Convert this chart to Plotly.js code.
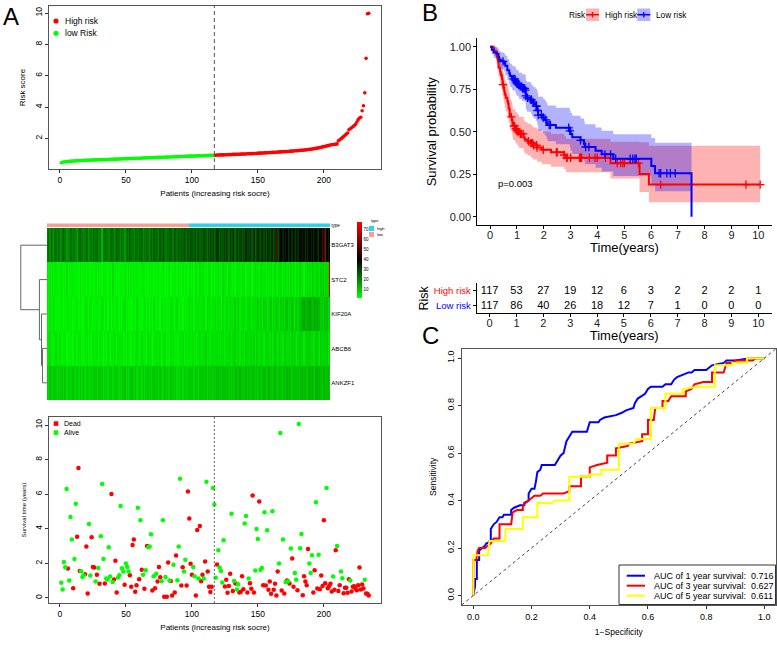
<!DOCTYPE html>
<html>
<head>
<meta charset="utf-8">
<script src="https://cdn.plot.ly/plotly-3.0.1.min.js"></script>
<style>
html, body { margin: 0; padding: 0; background: #fff; }
#chart { width: 777px; height: 646px; }
</style>
</head>
<body>
<div id="chart"></div>
<script>
// ---------- Panel A, top: risk score of each patient (sorted) ----------
var riskScore = [
  0.45,0.48,0.50,0.51,0.52,0.53,0.54,0.54,0.55,0.56,
  0.56,0.57,0.57,0.58,0.58,0.59,0.59,0.60,0.60,0.61,
  0.61,0.61,0.62,0.62,0.62,0.63,0.63,0.63,0.64,0.64,
  0.64,0.65,0.65,0.65,0.66,0.66,0.66,0.67,0.67,0.67,
  0.68,0.68,0.68,0.69,0.69,0.69,0.70,0.70,0.70,0.71,
  0.71,0.71,0.72,0.72,0.72,0.73,0.73,0.73,0.74,0.74,
  0.74,0.75,0.75,0.75,0.76,0.76,0.76,0.77,0.77,0.77,
  0.78,0.78,0.78,0.79,0.79,0.79,0.80,0.80,0.80,0.81,
  0.81,0.81,0.82,0.82,0.82,0.83,0.83,0.83,0.84,0.84,
  0.84,0.85,0.85,0.85,0.86,0.86,0.86,0.87,0.87,0.87,
  0.88,0.88,0.88,0.89,0.89,0.89,0.90,0.90,0.90,0.91,
  0.91,0.91,0.92,0.92,0.92,0.93,0.93,
  0.93,0.94,0.94,0.94,0.95,0.95,0.95,0.96,0.96,0.96,
  0.97,0.97,0.97,0.98,0.98,0.98,0.99,0.99,0.99,1.00,
  1.00,1.01,1.01,1.01,1.02,1.02,1.03,1.03,1.03,1.04,
  1.04,1.05,1.05,1.06,1.06,1.07,1.07,1.08,1.08,1.09,
  1.09,1.10,1.10,1.11,1.11,1.12,1.12,1.13,1.13,1.14,
  1.14,1.15,1.16,1.16,1.17,1.17,1.18,1.19,1.19,1.20,
  1.21,1.21,1.22,1.23,1.24,1.24,1.25,1.26,1.27,1.28,
  1.29,1.30,1.31,1.32,1.34,1.35,1.37,1.38,1.40,1.42,
  1.44,1.46,1.48,1.50,1.52,1.54,1.56,1.58,1.60,1.61,
  1.62,1.63,1.65,1.85,1.92,1.98,2.05,2.12,2.20,2.28,
  2.35,2.55,2.62,2.68,2.75,2.82,2.90,3.05,3.20,3.30,
  3.35,3.77,4.09,4.91,7.11,9.96,9.98
];
var lowCount = 117;   // patients below the cut-off (low risk)

// ---------- Panel A, middle: heatmap of the five genes ----------
var genes = ['B3GAT3', 'STC2', 'KIF20A', 'ABCB6', 'ANKZF1'];
// one character per patient (same order as riskScore): base-36 digit x 2 = expression
var exprB3GAT3 = 'ab9ca8bb9c a9bdab8a9c bab9a7bcab 9acb8ab9da bc9ab6abca a9bcb9adbb 9cab8bcaeb ab9cbadbc9 bacb9bcadb cbadbcebac bdcbaecbdc bdcecbd' +
  'ceddcfbdec dcfedbecfd ecdgfceddf dfecgdehce fdegcfdhef egdfhcegfd fhegdifegh dfgtehjigk hjfikgjhfi gkijhlfjgi jhkgijhfkj rigwjhk';
var exprSTC2 = '2121312212 1221213121 2212121312 1212212121 2131212212 1221312121 2121221312 1312212122 2121312212 1221213121 2312122131 2121221' +
  '2312132213 2231213221 3122312132 2213221312 3221323122 2312232213 3223132231 2321323132 3231423213 2342313242 3243234324 352434z';
var exprKIF20A = '2122132121 1221212312 2121321221 1232122121 2212132122 1321212231 2122312121 1221321212 2312122132 1221231212 2132212321 2213122' +
  '3223132232 2323142322 3242323132 2332423242 3423243233 4324233424 3243423542 4353424353 4534354245 3546676576 7656767564 5364534';
var exprABCB6 = '2231212321 3212231212 2132122312 1223121232 2312321221 3212232132 2231213221 3122321232 2213232122 3223122312 2132322213 2231322' +
  '3223231323 2332423223 3233242332 2423323342 3324232433 2433424323 4323433242 3442343324 4334243432 3443423443 4342344324 3443423';
var exprANKZF1 = '4354345435 3453543453 4543453534 5345435345 4354543435 3545345453 4354534345 5435345435 3454353454 4535434535 3454535343 4535434' +
  '4545354535 5454535454 4545645455 5464545456 4565454645 5456545465 4565456454 5645465456 4656546565 5465656546 6565467565 4765564';
// hclust-style merges of the gene rows (negative = leaf), and their heights
var dendroMerge = [[-4, -5], [-3, 1], [-2, 2], [-1, 3]];
var dendroHeight = [0.17, 0.21, 0.29, 1.0];

// ---------- Panel A, bottom: follow-up time and status ----------
var survTime = [
  0.87,0.48,2.08,1.77,6.30,1.70,1.00,4.68,3.37,0.56,
  2.25,5.45,3.53,7.51,1.56,1.54,1.21,1.31,1.37,2.97,
  0.25,4.28,1.29,3.50,1.79,1.75,0.94,1.33,1.73,0.81,
  3.56,6.59,2.25,0.83,1.12,1.06,2.93,1.23,6.01,0.92,
  1.06,2.14,0.31,1.18,1.31,5.32,1.71,1.52,0.75,1.98,
  1.79,1.52,1.31,0.64,3.06,3.37,0.35,0.73,5.22,1.08,
  4.49,1.62,1.33,0.52,1.60,3.00,2.93,2.97,3.68,0.42,
  1.25,0.56,1.39,0.94,1.79,1.19,0.96,4.49,0.06,1.21,
  0.06,2.04,1.00,0.98,0.13,1.91,0.31,2.45,1.02,2.97,
  6.90,0.71,1.77,1.52,2.20,0.71,6.15,4.59,1.97,1.33,
  1.79,1.25,0.13,3.93,1.12,4.16,0.96,1.33,1.12,2.10,
  6.72,1.52,0.64,0.33,0.64,6.36,5.40,
  1.16,1.93,2.76,1.75,1.56,0.89,3.33,0.66,1.04,0.29,
  0.69,1.39,4.87,0.39,0.98,0.83,0.48,0.79,0.31,0.35,
  1.25,0.50,4.30,4.74,0.31,1.12,0.85,0.52,5.92,0.31,
  1.58,3.99,3.41,5.57,1.62,1.73,0.73,4.95,0.71,3.91,
  0.46,0.94,0.23,5.01,0.46,0.81,0.13,1.52,1.98,9.54,
  0.42,3.37,0.25,0.91,1.00,0.96,0.83,2.85,2.27,0.64,
  1.43,1.04,0.44,10.07,2.87,3.70,0.15,1.25,0.94,0.73,
  2.83,1.98,1.43,2.47,0.31,1.60,5.53,0.54,2.50,0.50,
  1.29,0.69,4.49,0.85,6.36,0.56,0.69,0.81,0.37,1.23,
  0.46,2.76,3.00,0.40,0.73,1.52,1.14,0.27,0.58,0.58,
  0.29,1.08,1.00,0.37,0.64,0.67,0.52,0.44,0.73,1.75,
  0.48,0.77,0.54,1.04,0.25,0.23,0.13
];
var survDead = [
  0,0,0,0,0,1,0,0,0,1, 0,0,1,1,1,0,0,0,1,1, 1,0,0,1,1,1,0,1,0,1,
  0,0,0,1,0,0,0,0,1,0, 1,1,1,0,0,0,0,0,1,0, 0,0,1,1,1,1,1,1,0,1,
  0,1,0,1,0,1,0,0,0,1, 0,1,0,1,1,1,0,0,1,0, 1,1,0,1,1,0,1,1,0,0,
  0,1,1,0,0,1,1,1,1,1, 0,0,1,1,0,1,1,1,0,1, 0,1,1,1,1,0,0,
  0,1,0,0,0,0,0,1,1,1, 1,1,0,1,0,1,0,0,1,1, 1,1,0,0,1,0,1,1,1,1,
  0,0,0,1,0,0,1,0,1,0, 1,1,1,0,1,1,1,1,0,0, 1,0,1,0,1,0,1,0,1,1,
  0,0,1,0,0,0,1,1,1,1, 1,0,0,0,1,1,0,1,0,1, 1,1,1,1,0,1,1,1,1,0,
  1,1,0,1,1,0,0,1,1,1, 1,1,0,1,1,1,1,1,1,1, 1,1,1,0,1,1,1
];

// ---------- Panel B: Kaplan-Meier by risk group + numbers at risk ----------
var kmGroups = ['High risk', 'Low risk'];
var riskTimes = [0, 1, 2, 3, 4, 5, 6, 7, 8, 9, 10];
var atRiskHigh = [117, 53, 27, 19, 12, 6, 3, 2, 2, 2, 1];
var atRiskLow = [117, 86, 40, 26, 18, 12, 7, 1, 0, 0, 0];
var pValueText = 'p=0.003';

// ---------- Panel C: time-dependent ROC ----------
var roc1Fpr = [0,0.006,0.006,0.012,0.012,0.02,0.02,0.03,0.04,0.045,0.05,0.055,0.06,0.06,0.07,0.08,0.085,0.09,0.10,0.105,0.13,0.13,0.14,0.16,0.175,0.175,0.19,0.19,0.20,0.21,0.215,0.22,0.23,0.235,0.28,0.29,0.30,0.31,0.315,0.32,0.33,0.34,0.39,0.40,0.43,0.435,0.45,0.49,0.51,0.525,0.55,0.555,0.565,0.58,0.59,0.60,0.61,0.65,0.66,0.68,0.69,0.70,0.72,0.74,0.75,0.76,0.80,0.81,0.82,0.86,0.87,0.90,0.95,1.0];
var roc1Tpr = [0,0.04,0.07,0.07,0.15,0.15,0.19,0.20,0.21,0.22,0.22,0.23,0.23,0.28,0.30,0.31,0.32,0.33,0.33,0.34,0.34,0.36,0.37,0.38,0.38,0.39,0.40,0.43,0.45,0.45,0.48,0.52,0.53,0.55,0.55,0.57,0.59,0.60,0.62,0.65,0.67,0.69,0.69,0.73,0.73,0.74,0.75,0.76,0.77,0.78,0.79,0.81,0.83,0.84,0.85,0.87,0.88,0.88,0.89,0.89,0.91,0.92,0.93,0.94,0.94,0.95,0.95,0.96,0.97,0.98,0.99,0.99,1.0,1.0];
var roc3Fpr = [0,0,0.01,0.015,0.02,0.04,0.05,0.06,0.07,0.09,0.09,0.13,0.135,0.15,0.17,0.17,0.19,0.20,0.21,0.23,0.24,0.31,0.33,0.33,0.37,0.37,0.40,0.40,0.425,0.46,0.46,0.49,0.49,0.53,0.535,0.58,0.58,0.60,0.60,0.62,0.625,0.65,0.65,0.67,0.68,0.73,0.73,0.75,0.76,0.79,0.82,0.82,0.86,0.87,0.89,0.90,0.96,0.97,1.0];
var roc3Tpr = [0,0.15,0.15,0.19,0.20,0.20,0.21,0.22,0.24,0.24,0.30,0.30,0.35,0.36,0.36,0.38,0.40,0.41,0.42,0.42,0.43,0.43,0.44,0.46,0.46,0.50,0.50,0.54,0.55,0.56,0.59,0.59,0.62,0.63,0.64,0.65,0.68,0.68,0.74,0.74,0.79,0.79,0.82,0.82,0.84,0.84,0.86,0.87,0.89,0.90,0.90,0.94,0.94,0.98,0.98,0.99,0.99,1.0,1.0];
var roc5Fpr = [0,0,0.05,0.055,0.11,0.11,0.17,0.17,0.22,0.22,0.27,0.28,0.33,0.33,0.40,0.40,0.44,0.44,0.50,0.50,0.55,0.56,0.61,0.61,0.66,0.66,0.72,0.72,0.77,0.83,0.83,0.89,0.89,0.94,0.94,1.0];
var roc5Tpr = [0,0.17,0.17,0.23,0.23,0.28,0.28,0.33,0.33,0.39,0.39,0.40,0.40,0.50,0.50,0.51,0.51,0.53,0.53,0.64,0.64,0.66,0.66,0.79,0.79,0.85,0.85,0.87,0.88,0.88,0.97,0.97,0.98,0.98,1.0,1.0];
var aucLabels = ['AUC of 1 year survival:', 'AUC of 3 year survival:', 'AUC of 5 year survival:'];
var aucValues = [0.716, 0.627, 0.611];

// ---------------------------------------------------------------------
var W = 777, H = 646;
var FONT = 'Liberation Sans, Arial, Helvetica, sans-serif';
function xd(a, b) { return [a / W, b / W]; }
function yd(a, b) { return [1 - b / H, 1 - a / H]; }
function px(v) { return v / W; }
function py(v) { return 1 - v / H; }

var RED = '#FF0000', GREEN = '#00FF00', BLUE = '#0000FF', YELLOW = '#FFFF00';
var traces = [], shapes = [], annotations = [];

function note(text, x, y, size, extra) {
  var a = {text: text, xref: 'paper', yref: 'paper', x: px(x), y: py(y), showarrow: false,
    xanchor: 'left', yanchor: 'middle', font: {family: FONT, size: size, color: '#000'}};
  for (var k in extra) a[k] = extra[k];
  annotations.push(a);
}
function rectPx(x0, y0, x1, y1, fill, line) {
  shapes.push({type: 'rect', xref: 'paper', yref: 'paper', x0: px(x0), x1: px(x1), y0: py(y1), y1: py(y0),
    fillcolor: fill, line: line || {width: 0}});
}
function linePx(x0, y0, x1, y1, color, width) {
  shapes.push({type: 'line', xref: 'paper', yref: 'paper', x0: px(x0), x1: px(x1), y0: py(y0), y1: py(y1),
    line: {color: color, width: width}});
}
function dotPx(x, y, r, color, kind) {
  shapes.push({type: kind || 'circle', xref: 'paper', yref: 'paper', x0: px(x - r), x1: px(x + r),
    y0: py(y + r), y1: py(y - r), fillcolor: color, line: {width: 0}});
}

// R base-graphics style axis (boxed, outward ticks)
function baseAxis(domain, range, tickvals, anchor, extra) {
  var ax = {domain: domain, range: range, tickvals: tickvals, anchor: anchor, ticks: 'outside', ticklen: 3,
    tickcolor: '#333', showline: true, mirror: true, linecolor: '#555', linewidth: 1, showgrid: false,
    zeroline: false, tickfont: {family: FONT, size: 8.5, color: '#000'}};
  for (var k in extra) ax[k] = extra[k];
  return ax;
}

// ---- A top: risk score ----
var patient = riskScore.map(function (v, i) { return i + 1; });
traces.push({type: 'scatter', mode: 'markers', xaxis: 'x', yaxis: 'y', name: 'low Risk',
  x: patient.slice(0, lowCount), y: riskScore.slice(0, lowCount),
  marker: {color: GREEN, size: 3.6}, hoverinfo: 'x+y'});
traces.push({type: 'scatter', mode: 'markers', xaxis: 'x', yaxis: 'y', name: 'High risk',
  x: patient.slice(lowCount), y: riskScore.slice(lowCount),
  marker: {color: RED, size: 3.6}, hoverinfo: 'x+y'});
shapes.push({type: 'line', xref: 'x', yref: 'y domain', x0: lowCount, x1: lowCount, y0: 0, y1: 1,
  line: {color: '#555', width: 1, dash: '4px,3px'}});
dotPx(56, 21, 2.6, RED); note('High risk', 62.7, 21, 8.5);
dotPx(56, 33.3, 2.6, GREEN); note('low Risk', 62.7, 33.3, 8.5);

// ---- A middle: heatmap ----
function decode(s) {
  return s.replace(/\s+/g, '').split('').map(function (c) { return parseInt(c, 36) * 2; });
}
var exprZ = [exprB3GAT3, exprSTC2, exprKIF20A, exprABCB6, exprANKZF1].map(decode);
traces.push({type: 'heatmap', xaxis: 'x2', yaxis: 'y2', x: patient, y: genes, z: exprZ,
  zmin: 1, zmax: 77, colorscale: [[0, '#00FF00'], [0.5, '#000000'], [1, '#FF0000']],
  colorbar: {x: px(357), xanchor: 'left', y: py(222), yanchor: 'top', len: 76, lenmode: 'pixels',
    thickness: 5, thicknessmode: 'pixels', outlinewidth: 0, xpad: 0, ypad: 0, ticks: '',
    tickvals: [10, 20, 30, 40, 50, 60, 70], tickfont: {family: FONT, size: 4.5, color: '#000'}}});
var typeCode = patient.map(function (p) { return p <= lowCount ? 0 : 1; });
var SALMON = '#F89E98', CYAN = '#2ED2E6';
traces.push({type: 'heatmap', xaxis: 'x3', yaxis: 'y3', x: patient, y: ['type'], z: [typeCode],
  zmin: 0, zmax: 1, showscale: false,
  colorscale: [[0, SALMON], [0.5, SALMON], [0.5, CYAN], [1, CYAN]]});
// dendrogram of the rows
(function () {
  var pos = [], hgt = [], xs = [], ys = [];
  function child(c) { return c < 0 ? {y: -c - 1, h: 0} : {y: pos[c - 1], h: hgt[c - 1]}; }
  dendroMerge.forEach(function (m, k) {
    var a = child(m[0]), b = child(m[1]), h = dendroHeight[k];
    xs.push(a.h, h, h, b.h, null);
    ys.push(a.y, a.y, b.y, b.y, null);
    pos.push((a.y + b.y) / 2); hgt.push(h);
  });
  traces.push({type: 'scatter', mode: 'lines', xaxis: 'x4', yaxis: 'y4', x: xs, y: ys,
    line: {color: '#666', width: 1}, hoverinfo: 'skip'});
})();
note('type', 369, 221, 4, {});
rectPx(369, 226, 374, 231, CYAN); note('high', 375, 228.5, 4);
rectPx(369, 232, 374, 237, SALMON); note('low', 375, 234.5, 4);

// ---- A bottom: survival time ----
var deadX = [], deadY = [], aliveX = [], aliveY = [];
survTime.forEach(function (t, i) {
  if (survDead[i]) { deadX.push(i + 1); deadY.push(t); } else { aliveX.push(i + 1); aliveY.push(t); }
});
traces.push({type: 'scatter', mode: 'markers', xaxis: 'x5', yaxis: 'y5', name: 'Dead', x: deadX, y: deadY,
  marker: {color: RED, size: 4.5}});
traces.push({type: 'scatter', mode: 'markers', xaxis: 'x5', yaxis: 'y5', name: 'Alive', x: aliveX, y: aliveY,
  marker: {color: GREEN, size: 4.5}});
shapes.push({type: 'line', xref: 'x5', yref: 'y5 domain', x0: lowCount, x1: lowCount, y0: 0, y1: 1,
  line: {color: '#666', width: 1, dash: '2px,2px'}});
dotPx(56, 423.6, 2.3, RED, 'rect'); note('Dead', 62.3, 423.6, 7);
dotPx(56, 432.6, 2.3, GREEN, 'rect'); note('Alive', 62.3, 432.6, 7);

// ---- B: Kaplan-Meier with log-type 95% CI ----
function kmFit(times, dead) {
  var idx = times.map(function (t, i) { return i; });
  idx.sort(function (a, b) { return times[a] - times[b]; });
  var n = idx.length, atRisk = n, s = 1, v = 0, i = 0, open = true;
  var f = {x: [0], y: [1], bx: [0], lo: [1], hi: [1], cx: [], cy: []};
  while (i < n) {
    var t = times[idx[i]], d = 0, c = 0;
    while (i < n && times[idx[i]] === t) { if (dead[idx[i]]) d++; else c++; i++; }
    if (d > 0) {
      s *= 1 - d / atRisk;
      f.x.push(t); f.y.push(s);
      if (open) {
        f.bx.push(t);
        if (atRisk > d) {
          v += d / (atRisk * (atRisk - d));
          var se = Math.sqrt(v);
          f.lo.push(s * Math.exp(-1.96 * se)); f.hi.push(Math.min(1, s * Math.exp(1.96 * se)));
        } else {
          f.lo.push(f.lo[f.lo.length - 1]); f.hi.push(f.hi[f.hi.length - 1]); open = false;
        }
      }
    }
    if (c > 0) { f.cx.push(t); f.cy.push(s); }
    atRisk -= d + c;
  }
  var tmax = times[idx[n - 1]];
  if (f.x[f.x.length - 1] < tmax) { f.x.push(tmax); f.y.push(s); }
  if (open && f.bx[f.bx.length - 1] < tmax) {
    f.bx.push(tmax); f.lo.push(f.lo[f.lo.length - 1]); f.hi.push(f.hi[f.hi.length - 1]);
  }
  return f;
}
var kmColors = [RED, BLUE];
var kmFills = ['rgba(255,0,0,0.3)', 'rgba(0,0,255,0.3)'];
var kmFits = [
  kmFit(survTime.slice(lowCount), survDead.slice(lowCount)),
  kmFit(survTime.slice(0, lowCount), survDead.slice(0, lowCount))
];
kmFits.forEach(function (f, g) {
  traces.push({type: 'scatter', mode: 'lines', xaxis: 'x6', yaxis: 'y6', x: f.bx, y: f.hi,
    line: {width: 0, shape: 'hv'}, hoverinfo: 'skip'});
  traces.push({type: 'scatter', mode: 'lines', xaxis: 'x6', yaxis: 'y6', x: f.bx, y: f.lo,
    line: {width: 0, shape: 'hv'}, fill: 'tonexty', fillcolor: kmFills[g], hoverinfo: 'skip'});
});
kmFits.forEach(function (f, g) {
  traces.push({type: 'scatter', mode: 'lines', xaxis: 'x6', yaxis: 'y6', name: kmGroups[g], x: f.x, y: f.y,
    line: {color: kmColors[g], width: 2, shape: 'hv'}});
  traces.push({type: 'scatter', mode: 'markers', xaxis: 'x6', yaxis: 'y6', x: f.cx, y: f.cy,
    marker: {symbol: 'cross-thin', size: 6, line: {color: kmColors[g], width: 1.3}}, hoverinfo: 'skip'});
});
annotations.push({text: pValueText, xref: 'x6', yref: 'y6', x: 0.22, y: 0.196, xanchor: 'left',
  showarrow: false, font: {family: FONT, size: 9.5, color: '#000'}});
note('Risk', 566.5, 14.7, 8.3);
[586, 637.3].forEach(function (bx, g) {
  rectPx(bx, 8.5, bx + 13, 21, kmFills[g]);
  linePx(bx, 14.7, bx + 13, 14.7, kmColors[g], 1.5);
  linePx(bx + 6.5, 12, bx + 6.5, 17.4, kmColors[g], 1.3);
  note(kmGroups[g], bx + 16.5, 14.7, 8.3);
});

// numbers at risk table
[atRiskHigh, atRiskLow].forEach(function (counts, g) {
  traces.push({type: 'scatter', mode: 'text', xaxis: 'x7', yaxis: 'y7', x: riskTimes,
    y: riskTimes.map(function () { return kmGroups[g]; }), text: counts.map(String),
    textfont: {family: FONT, size: 11, color: '#000'}, hoverinfo: 'skip'});
});

// ---- C: ROC curves ----
[[roc1Fpr, roc1Tpr, BLUE], [roc3Fpr, roc3Tpr, RED], [roc5Fpr, roc5Tpr, YELLOW]].forEach(function (r, k) {
  traces.push({type: 'scatter', mode: 'lines', xaxis: 'x8', yaxis: 'y8', name: aucLabels[k],
    x: r[0], y: r[1], line: {color: r[2], width: 2}});
});
shapes.push({type: 'line', xref: 'x8', yref: 'y8', x0: -0.04, y0: -0.04, x1: 1.04, y1: 1.04,
  line: {color: '#444', width: 1, dash: '3px,3px'}});
rectPx(619, 565, 775.5, 604.5, '#fff', {color: '#333', width: 1});
[BLUE, RED, YELLOW].forEach(function (c, k) {
  var y = 575.7 + 10 * k;
  linePx(626.7, y, 645, y, c, 2);
  note(aucLabels[k] + ' \u00a0' + aucValues[k].toFixed(3), 652.3, y, 9);
});

// panel letters
note('A', 10.5, 16.5, 24, {xanchor: 'center'});
note('B', 429.7, 12.5, 24, {xanchor: 'center'});
note('C', 430.5, 335.5, 24, {xanchor: 'center'});

var kmTick = {family: FONT, size: 11, color: '#222'};
var layout = {
  width: W, height: H, margin: {l: 0, r: 0, t: 0, b: 0}, showlegend: false,
  paper_bgcolor: '#fff', plot_bgcolor: 'rgba(0,0,0,0)', font: {family: FONT, color: '#000'},
  xaxis: baseAxis(xd(49, 381), [-8.3, 243.3], [0, 50, 100, 150, 200], 'y',
    {title: {text: 'Patients (increasing risk socre)', font: {size: 8}, standoff: 6}}),
  yaxis: baseAxis(yd(6, 169), [0.05, 10.45], [2, 4, 6, 8, 10], 'x',
    {tickangle: -90, title: {text: 'Risk score', font: {size: 8}, standoff: 6}}),
  xaxis2: {domain: xd(47, 330.3), range: [0.5, patient.length + 0.5], visible: false, anchor: 'y2'},
  yaxis2: {domain: yd(228, 400), autorange: 'reversed', side: 'right', ticks: '', showgrid: false,
    zeroline: false, anchor: 'x2', tickfont: {family: FONT, size: 6, color: '#000'}},
  xaxis3: {domain: xd(47, 330.3), range: [0.5, patient.length + 0.5], visible: false, anchor: 'y3'},
  yaxis3: {domain: yd(223.3, 227.3), side: 'right', ticks: '', showgrid: false, zeroline: false,
    anchor: 'x3', tickfont: {family: FONT, size: 4.5, color: '#000'}},
  xaxis4: {domain: xd(20, 47), range: [1.03, 0], visible: false, anchor: 'y4'},
  yaxis4: {domain: yd(228, 400), range: [genes.length - 0.5, -0.5], visible: false, anchor: 'x4'},
  xaxis5: baseAxis(xd(49, 381), [-8.3, 243.3], [0, 50, 100, 150, 200], 'y5',
    {title: {text: 'Patients (increasing risk socre)', font: {size: 8}, standoff: 6}}),
  yaxis5: baseAxis(yd(417, 603), [-0.3, 10.47], [0, 2, 4, 6, 8, 10], 'x5',
    {tickangle: -90, title: {text: 'Survival time (years)', font: {size: 6}, standoff: 6}}),
  xaxis6: {domain: xd(477.3, 771.7), range: [-0.48, 10.5], anchor: 'y6', tickvals: riskTimes,
    ticks: 'outside', ticklen: 3, tickcolor: '#000', showline: true, linecolor: '#000', linewidth: 1,
    showgrid: false, zeroline: false, tickfont: kmTick, ticklabelstandoff: -4,
    title: {text: 'Time(years)', font: {family: FONT, size: 13, color: '#000'}, standoff: 1}},
  yaxis6: {domain: yd(38.3, 225.3), range: [-0.05, 1.05], anchor: 'x6', tickvals: [0, 0.25, 0.5, 0.75, 1],
    tickformat: '.2f', ticks: 'outside', ticklen: 3, tickcolor: '#000', showline: true, linecolor: '#000',
    linewidth: 1, showgrid: false, zeroline: false, tickfont: kmTick,
    title: {text: 'Survival probability', font: {family: FONT, size: 13, color: '#000'}, standoff: 10}},
  xaxis7: {domain: xd(476.7, 771.7), range: [-0.48, 10.5], anchor: 'y7', tickvals: riskTimes,
    ticks: 'outside', ticklen: 3, tickcolor: '#000', showline: true, linecolor: '#000', linewidth: 1,
    showgrid: false, zeroline: false, tickfont: kmTick, ticklabelstandoff: -4,
    title: {text: 'Time(years)', font: {family: FONT, size: 13, color: '#000'}, standoff: 1}},
  yaxis7: {domain: yd(283.3, 313.3), type: 'category', categoryarray: [kmGroups[1], kmGroups[0]],
    range: [-0.5, 1.5], anchor: 'x7', tickvals: kmGroups,
    ticktext: ['<span style="color:#FF0000">' + kmGroups[0] + '</span>', '<span style="color:#0000FF">' + kmGroups[1] + '</span>'],
    ticks: 'outside', ticklen: 3, tickcolor: '#000', showline: true, linecolor: '#000', linewidth: 1,
    showgrid: false, zeroline: false, tickfont: {family: FONT, size: 9.5},
    title: {text: 'Risk', font: {family: FONT, size: 12.5, color: '#000'}, standoff: 2}},
  xaxis8: baseAxis(xd(461.7, 776), [-0.04, 1.04], [0, 0.2, 0.4, 0.6, 0.8, 1], 'y8',
    {tickformat: '.1f', tickfont: {family: FONT, size: 9, color: '#000'},
     title: {text: '1\u2212Specificity', font: {size: 8.5}, standoff: 8}}),
  yaxis8: baseAxis(yd(348.7, 605), [-0.04, 1.04], [0, 0.2, 0.4, 0.6, 0.8, 1], 'x8',
    {tickformat: '.1f', tickangle: -90, tickfont: {family: FONT, size: 9, color: '#000'},
     title: {text: 'Sensitivity', font: {size: 8.5}, standoff: 8}}),
  shapes: shapes,
  annotations: annotations
};

Plotly.newPlot('chart', traces, layout, {staticPlot: true, displayModeBar: false});
</script>
</body>
</html>
